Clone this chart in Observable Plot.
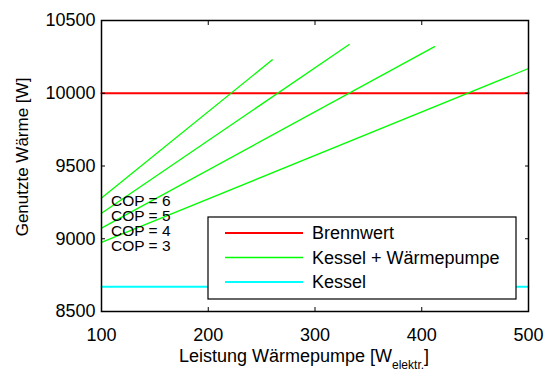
<!DOCTYPE html>
<html><head><meta charset="utf-8">
<script src="https://cdn.jsdelivr.net/npm/d3@7"></script>
<script src="https://cdn.jsdelivr.net/npm/@observablehq/plot@0.6"></script>
<style>body{margin:0;background:#fff}</style>
</head><body><div id="chart"></div>
<script>
const xTicks = [100, 200, 300, 400, 500];
const yTicks = [8500, 9000, 9500, 10000, 10500];
const seriesNames = ["Brennwert", "Kessel + Wärmepumpe", "Kessel"];
const seriesColors = ["#ff0000", "#00ff00", "#00ffff"];
const brennwertX = [100, 500];
const brennwertY = [10000, 10000];
const kesselX = [100, 500];
const kesselY = [8670, 8670];
const copLabels = ["COP = 6", "COP = 5", "COP = 4", "COP = 3"];
const cop6X = [100, 260], cop6Y = [9280, 10230];
const cop5X = [100, 332], cop5Y = [9175, 10335];
const cop4X = [100, 412], cop4Y = [9073, 10320];
const cop3X = [100, 500], cop3Y = [8975, 10170];

const copRows = [];
[[cop6X, cop6Y], [cop5X, cop5Y], [cop4X, cop4Y], [cop3X, cop3Y]].forEach(([xs, ys], i) =>
  xs.forEach((x, j) => copRows.push({series: copLabels[i], x, y: ys[j]})));
const brRows = brennwertX.map((x, i) => ({x, y: brennwertY[i]}));
const keRows = kesselX.map((x, i) => ({x, y: kesselY[i]}));

const font = "'Liberation Sans', Arial, sans-serif";
const fmt = d => String(d);
const plot = Plot.plot({
  width: 544, height: 372,
  marginLeft: 101, marginRight: 16, marginTop: 20, marginBottom: 61,
  style: {fontFamily: font, fontSize: "18px", color: "#000", background: "#fff"},
  x: {domain: [100, 500]},
  y: {domain: [8500, 10500]},
  marks: [
    Plot.line(keRows, {x: "x", y: "y", stroke: seriesColors[2], strokeWidth: 2}),
    Plot.line(brRows, {x: "x", y: "y", stroke: seriesColors[0], strokeWidth: 2}),
    Plot.line(copRows, {x: "x", y: "y", z: "series", stroke: seriesColors[1], strokeWidth: 1.3}),
    Plot.axisX({ticks: xTicks, anchor: "bottom", tickSize: 0, tickPadding: 17, label: null, fontSize: 18, tickFormat: fmt}),
    Plot.axisY({ticks: yTicks, anchor: "left", tickSize: 0, tickPadding: 6, label: null, fontSize: 18, tickFormat: fmt}),
    Plot.axisX({ticks: xTicks.slice(1, -1), anchor: "bottom", tickSize: -4, tickFormat: () => "", label: null}),
    Plot.axisX({ticks: xTicks.slice(1, -1), anchor: "top", tickSize: -4, tickFormat: () => "", label: null}),
    Plot.axisY({ticks: yTicks.slice(1, -1), anchor: "left", tickSize: -4, tickFormat: () => "", label: null}),
    Plot.axisY({ticks: yTicks.slice(1, -1), anchor: "right", tickSize: -4, tickFormat: () => "", label: null}),
    Plot.frame({stroke: "#000", strokeWidth: 1.5})
  ]
});
document.getElementById("chart").appendChild(plot);

const svg = d3.select(plot);
const sx = plot.scale("x");
// COP labels
copLabels.forEach((t, i) => {
  svg.append("text").attr("x", sx.apply(100) + 10).attr("y", 201 + i * 15)
    .attr("dy", "0.35em").attr("text-anchor", "start")
    .attr("font-size", 15.5).attr("font-family", font).text(t);
});
// Legend
const lg = svg.append("g");
lg.append("rect").attr("x", 208).attr("y", 217).attr("width", 308).attr("height", 82)
  .attr("fill", "#fff").attr("stroke", "#000").attr("stroke-width", 1.2);
seriesNames.forEach((n, i) => {
  const yy = 233 + i * 24.5;
  lg.append("line").attr("x1", 225).attr("x2", 303).attr("y1", yy).attr("y2", yy)
    .attr("stroke", seriesColors[i]).attr("stroke-width", i === 1 ? 1.3 : 2);
  lg.append("text").attr("x", 312).attr("y", yy).attr("dy", "0.35em").attr("text-anchor", "start")
    .attr("font-size", 18).attr("font-family", font).text(n);
});
// Axis labels
const xl = svg.append("text").attr("x", 304).attr("y", 362).attr("text-anchor", "middle")
  .attr("font-size", 18).attr("font-family", font);
xl.append("tspan").text("Leistung Wärmepumpe [W");
xl.append("tspan").attr("font-size", 12).attr("dy", 7).text("elektr.");
xl.append("tspan").attr("dy", -7).text("]");
svg.append("text").attr("transform", "translate(28,157) rotate(-90)").attr("text-anchor", "middle")
  .attr("font-size", 17).attr("font-family", font).text("Genutzte Wärme [W]");
</script></body></html>
